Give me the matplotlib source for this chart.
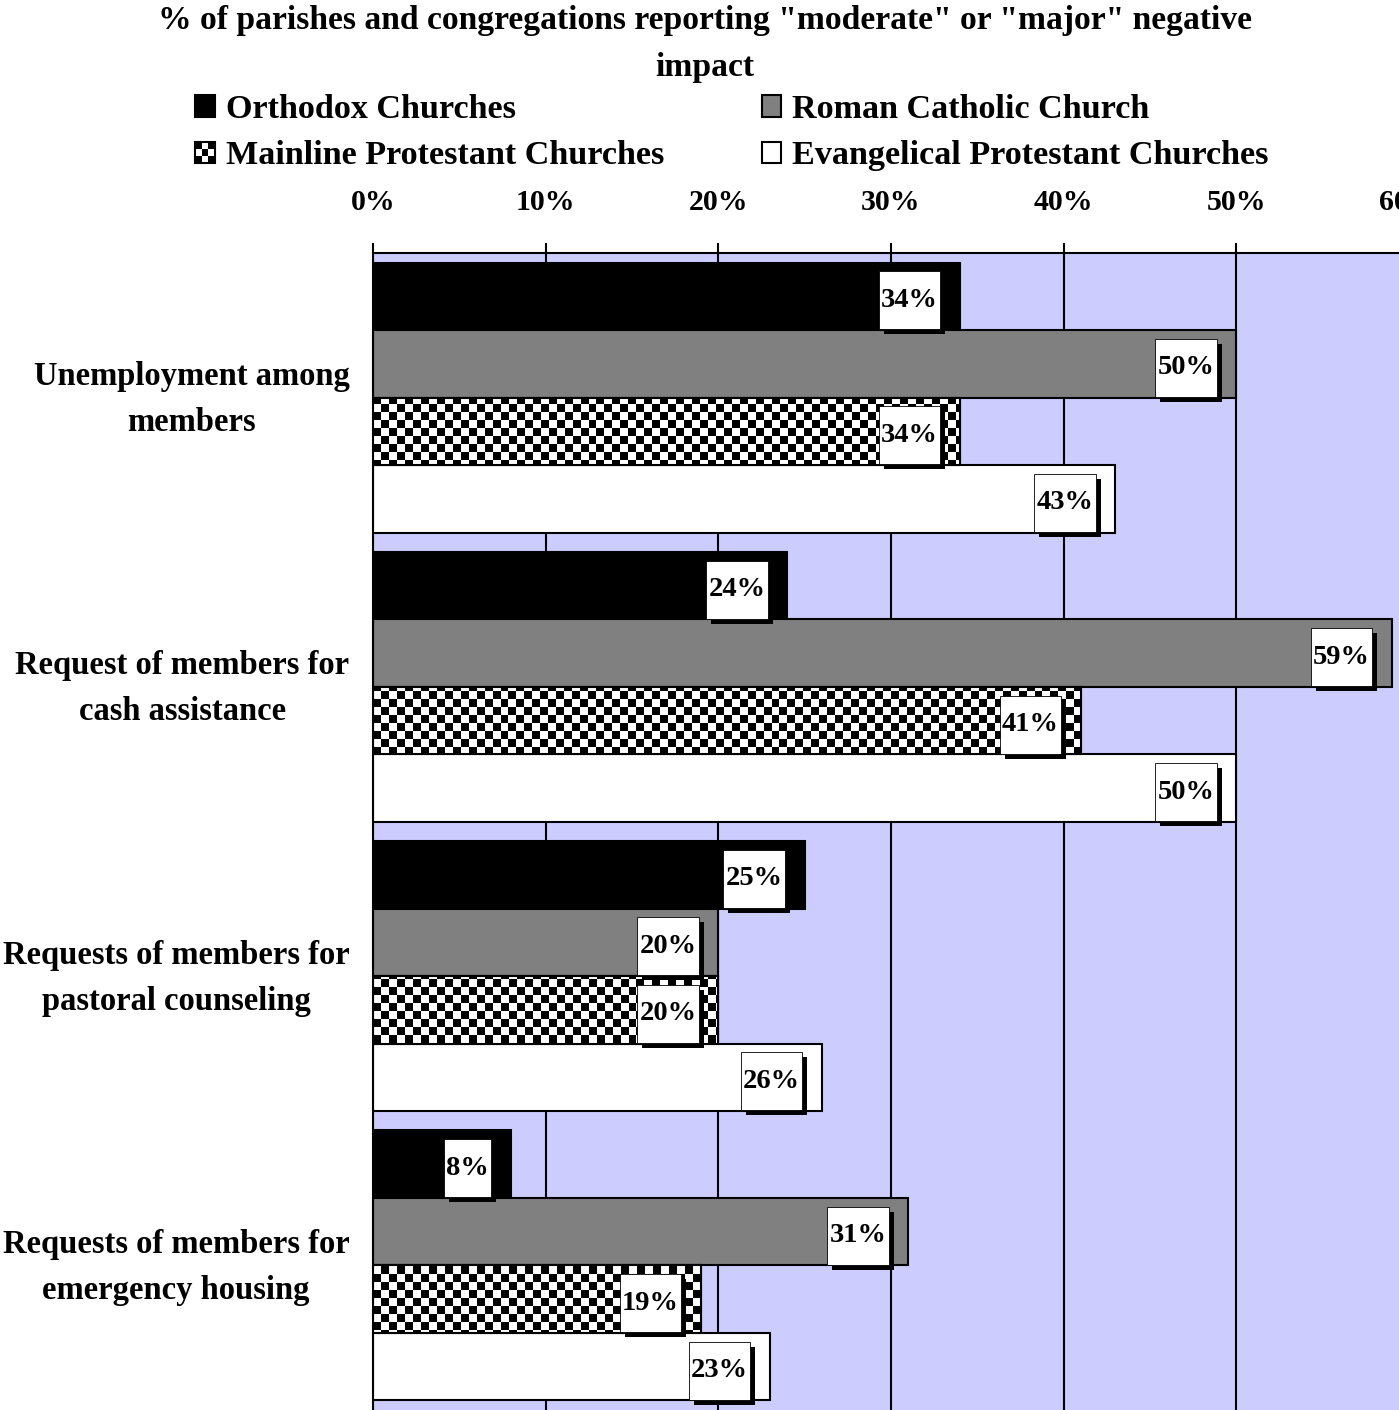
import numpy as np
import matplotlib
matplotlib.use("Agg")
import matplotlib.pyplot as plt
from matplotlib.patches import Patch, Rectangle
from matplotlib.path import Path
from matplotlib.legend_handler import HandlerBase
from matplotlib.transforms import ScaledTranslation
import matplotlib.patheffects as pe

# ---------------- data ----------------
categories = [
    "Unemployment among\nmembers",
    "Request of members for\ncash assistance",
    "Requests of members for\npastoral counseling",
    "Requests of members for\nemergency housing",
]
series_names = [
    "Orthodox Churches",
    "Roman Catholic Church",
    "Mainline Protestant Churches",
    "Evangelical Protestant Churches",
]
orthodox = [34, 24, 25, 8]
roman_catholic = [50, 59, 20, 31]
mainline = [34, 41, 20, 19]
evangelical = [43, 50, 26, 23]
x_ticks = [0, 10, 20, 30, 40, 50, 60]
x_tick_labels = ["0%", "10%", "20%", "30%", "40%", "50%", "60%"]
title = '% of parishes and congregations reporting "moderate" or "major" negative\nimpact'

# ---------------- style ----------------
FONT = ["Liberation Serif", "DejaVu Serif"]
plt.rcParams["font.family"] = FONT
plt.rcParams["font.weight"] = "bold"

W, H, DPI = 1399, 1410, 100
fig = plt.figure(figsize=(W / DPI, H / DPI), dpi=DPI)
fig.patch.set_facecolor("white")

ax_left, ax_right, ax_top, ax_bottom = 373, 1409, 253, 1410
ax = fig.add_axes([ax_left / W, 1 - ax_bottom / H,
                   (ax_right - ax_left) / W, (ax_bottom - ax_top) / H])
ax.set_facecolor("#CCCCFF")

series = [orthodox, roman_catholic, mainline, evangelical]
faces = ["black", "#808080", "white", "white"]
bar_h = 67.5 / 289.0
ypos = np.arange(len(categories))

bars_all = []
for j, (vals, fc) in enumerate(zip(series, faces)):
    y = ypos + (j - 1.5) * bar_h
    b = ax.barh(y, vals, height=bar_h, color=fc, edgecolor="black",
                linewidth=1.5, zorder=2)
    bars_all.append(b)

ax.set_xlim(0, 60)
ax.set_ylim(len(categories) - 0.5, -0.5)

# checker texture for mainline bars
fig.canvas.draw()
bb = ax.get_window_extent()
cell = 8.0
ncol = int(round(bb.width / cell))
nrow = int(round(bb.height / cell))
chk = (np.indices((nrow, ncol)).sum(axis=0) % 2).astype(float)
for rect in bars_all[2]:
    im = ax.imshow(chk, cmap="gray", vmin=0, vmax=1, interpolation="nearest",
                   extent=(0, 60, len(categories) - 0.5, -0.5), aspect="auto",
                   zorder=2.2)
    im.set_clip_path(rect)
ax.barh(ypos + 0.5 * bar_h, mainline, height=bar_h, facecolor="none",
        edgecolor="black", linewidth=1.5, zorder=2.4)
ax.set_xlim(0, 60)
ax.set_ylim(len(categories) - 0.5, -0.5)

# grid & axes
ax.set_xticks(x_ticks)
ax.set_xticklabels(x_tick_labels, fontsize=21.5, fontweight="bold")
ax.xaxis.tick_top()
ax.tick_params(axis="x", direction="out", length=7.5, width=1.5, pad=19.5,
               color="black")
ax.grid(axis="x", color="black", linewidth=1.5, zorder=1)
ax.set_axisbelow(True)
ax.set_yticks(ypos)
ax.set_yticklabels(categories, fontsize=23.5, fontweight="bold",
                   multialignment="center", linespacing=1.62)
ax.tick_params(axis="y", length=0, pad=17)
shift = ScaledTranslation(0, 9 / DPI, fig.dpi_scale_trans)
for lab in ax.get_yticklabels():
    lab.set_transform(lab.get_transform() + shift)
for s in ["right", "bottom"]:
    ax.spines[s].set_visible(False)
for s in ["top", "left"]:
    ax.spines[s].set_linewidth(1.5)
    ax.spines[s].set_zorder(5)

# value labels with shadowed boxes
def tallbox(x0, y0, width, height, mutation_size):
    px = 0.08 * mutation_size
    py = 0.58 * mutation_size
    x0, y0 = x0 - px, y0 - py
    x1, y1 = x0 + width + 2 * px, y0 + height + 2 * py
    return Path([(x0, y0), (x1, y0), (x1, y1), (x0, y1), (x0, y0)],
                closed=True)

for j, vals in enumerate(series):
    for i, v in enumerate(vals):
        y = ypos[i] + (j - 1.5) * bar_h
        t = ax.annotate(f"{v}%", xy=(v, y), xytext=(-22, -4),
                        textcoords="offset pixels", ha="right", va="center",
                        fontsize=20.5, fontweight="bold", zorder=6,
                        bbox=dict(boxstyle=tallbox, facecolor="white",
                                  edgecolor="black", linewidth=0.6))
        t.get_bbox_patch().set_path_effects([
            pe.SimplePatchShadow(offset=(3.6, -3.6), shadow_rgbFace="black",
                                 alpha=1.0),
            pe.Normal()])

# title
fig.text(705 / W, 1 - 44 / H, title, ha="center", va="center", fontsize=24.2,
         fontweight="bold", linespacing=1.66)

# legend
class HandlerChecker(HandlerBase):
    def create_artists(self, legend, orig_handle, xdescent, ydescent, width,
                       height, fontsize, trans):
        arts = []
        n = 3
        cw, chh = width / n, height / n
        for r in range(n):
            for c in range(n):
                col = "black" if (r + c) % 2 == 0 else "white"
                arts.append(Rectangle((-xdescent + c * cw, -ydescent + r * chh),
                                      cw, chh, facecolor=col, edgecolor="none",
                                      transform=trans))
        arts.append(Rectangle((-xdescent, -ydescent), width, height,
                              facecolor="none", edgecolor="black",
                              linewidth=1.5, transform=trans))
        return arts

handles = [Patch(facecolor="black", edgecolor="black", linewidth=1.5),
           Patch(facecolor="white", edgecolor="black", linewidth=1.5, label="m"),
           Patch(facecolor="#808080", edgecolor="black", linewidth=1.5),
           Patch(facecolor="white", edgecolor="black", linewidth=1.5)]
checker_handle = handles[1]
labels = [series_names[0], series_names[2], series_names[1], series_names[3]]
leg = fig.legend(handles, labels, loc="upper left",
                 bbox_to_anchor=(195 / W, 1 - 94 / H), ncol=2, frameon=False,
                 prop=dict(family=FONT, weight="bold", size=24.6),
                 handlelength=0.58, handleheight=0.58, handletextpad=0.32,
                 columnspacing=2.85, labelspacing=0.45, borderpad=0,
                 borderaxespad=0,
                 handler_map={checker_handle: HandlerChecker()})

fig.savefig("out.png", dpi=DPI)
